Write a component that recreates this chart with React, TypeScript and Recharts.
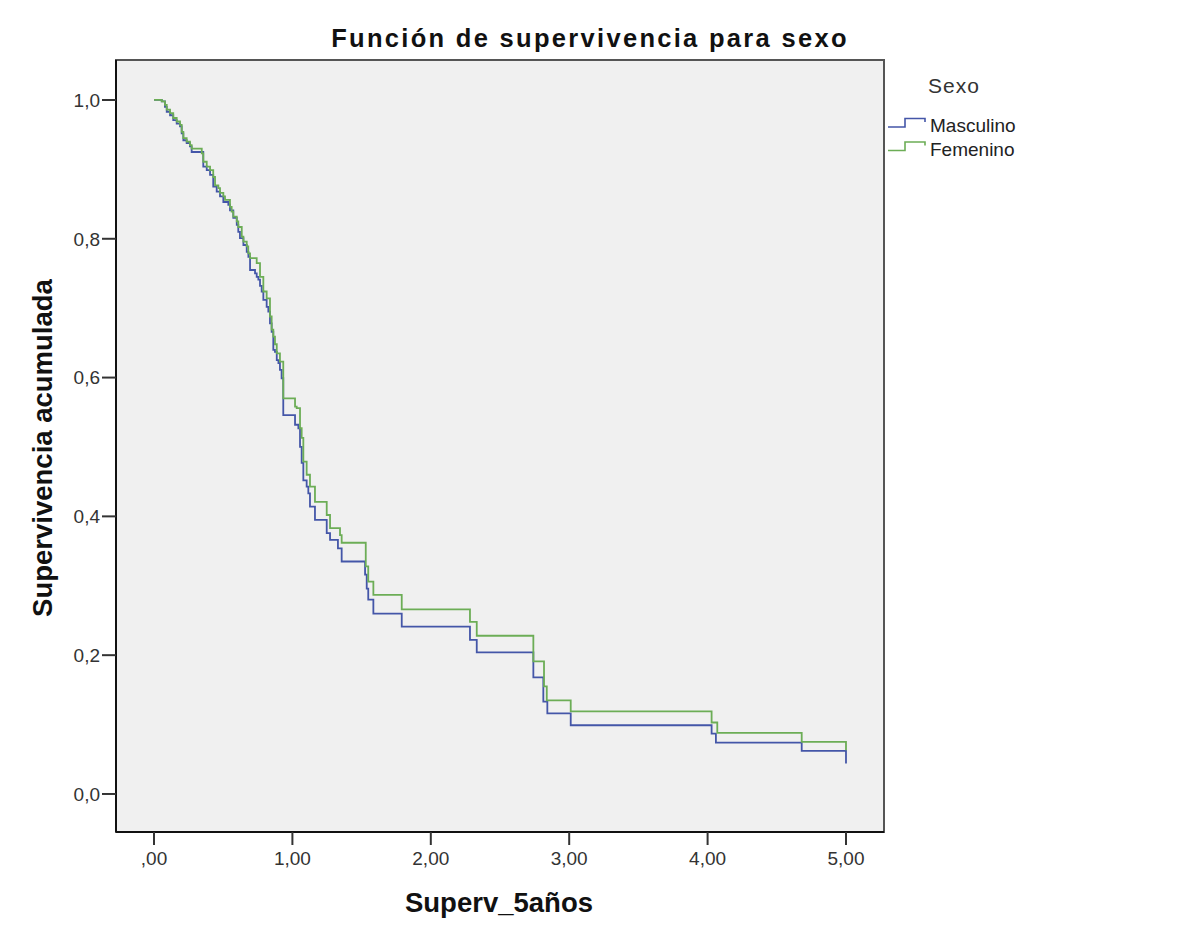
import { LineChart, Line, XAxis, YAxis, ReferenceArea, Legend } from "recharts";

// Kaplan-Meier steps (time in years, cumulative survival after the drop)
const masculinoTiempo = [
  0, 0.056, 0.079, 0.092, 0.116, 0.139, 0.164, 0.188, 0.2, 0.212, 0.236, 0.26, 0.272, 0.356, 0.381, 0.405,
  0.428, 0.453, 0.477, 0.501, 0.537, 0.549, 0.573, 0.598, 0.609, 0.621, 0.646, 0.67, 0.682, 0.694, 0.73,
  0.742, 0.754, 0.766, 0.778, 0.79, 0.814, 0.826, 0.838, 0.85, 0.862, 0.874, 0.887, 0.899, 0.91, 0.922,
  0.934, 1.019, 1.043, 1.055, 1.067, 1.079, 1.103, 1.115, 1.127, 1.163, 1.248, 1.272, 1.329, 1.356, 1.525,
  1.537, 1.548, 1.585, 1.79, 2.283, 2.332, 2.741, 2.813, 2.842, 3.011, 4.029, 4.06, 4.68, 5.0,
];
const masculinoSuperv = [
  1.0, 0.998, 0.99, 0.983, 0.978, 0.971, 0.966, 0.962, 0.952, 0.942, 0.938, 0.933, 0.925, 0.904, 0.899, 0.892,
  0.875, 0.868, 0.861, 0.853, 0.849, 0.841, 0.83, 0.82, 0.81, 0.801, 0.791, 0.781, 0.774, 0.755, 0.75,
  0.745, 0.741, 0.732, 0.724, 0.712, 0.702, 0.695, 0.678, 0.666, 0.64, 0.637, 0.625, 0.621, 0.611, 0.599,
  0.546, 0.532, 0.527, 0.5, 0.477, 0.452, 0.443, 0.433, 0.414, 0.395, 0.376, 0.366, 0.354, 0.335, 0.316,
  0.296, 0.28, 0.26, 0.241, 0.222, 0.204, 0.168, 0.133, 0.116, 0.099, 0.087, 0.074, 0.062, 0.044,
];

const femeninoTiempo = [
  0, 0.056, 0.079, 0.092, 0.116, 0.139, 0.164, 0.188, 0.2, 0.212, 0.236, 0.26, 0.272, 0.345, 0.356, 0.381,
  0.405, 0.428, 0.441, 0.465, 0.477, 0.501, 0.513, 0.549, 0.561, 0.573, 0.598, 0.609, 0.634, 0.646, 0.67,
  0.681, 0.694, 0.742, 0.766, 0.79, 0.814, 0.838, 0.85, 0.862, 0.874, 0.887, 0.91, 0.934, 1.019, 1.031,
  1.055, 1.067, 1.079, 1.103, 1.127, 1.163, 1.248, 1.272, 1.344, 1.356, 1.53, 1.548, 1.585, 1.79, 2.283,
  2.332, 2.741, 2.818, 2.838, 3.011, 4.029, 4.07, 4.68, 5.0,
];
const femeninoSuperv = [
  1.0, 0.998, 0.993, 0.986, 0.981, 0.974, 0.969, 0.964, 0.954, 0.945, 0.94, 0.935, 0.93, 0.923, 0.911, 0.904,
  0.899, 0.889, 0.877, 0.873, 0.866, 0.861, 0.856, 0.846, 0.839, 0.832, 0.825, 0.817, 0.803, 0.796, 0.789,
  0.779, 0.772, 0.765, 0.745, 0.724, 0.714, 0.688, 0.669, 0.659, 0.648, 0.635, 0.623, 0.57, 0.558, 0.556,
  0.527, 0.513, 0.479, 0.46, 0.443, 0.421, 0.402, 0.383, 0.373, 0.362, 0.328, 0.306, 0.287, 0.266, 0.248,
  0.228, 0.191, 0.155, 0.135, 0.119, 0.103, 0.088, 0.075, 0.063,
];

const seriesNames = ["Masculino", "Femenino"];
const xTicks = [0, 1, 2, 3, 4, 5];
const yTicks = [0, 0.2, 0.4, 0.6, 0.8, 1.0];

const masculinoData = masculinoTiempo.map((t, i) => ({ t, s: masculinoSuperv[i] }));
const femeninoData = femeninoTiempo.map((t, i) => ({ t, s: femeninoSuperv[i] }));

const FONT = "'Liberation Sans', Arial, sans-serif";
const X_DOMAIN = [-0.2746, 5.2746];
const Y_DOMAIN = [-0.0548, 1.0576];

const fmtX = (v: number) => (v === 0 ? ",00" : v.toFixed(2).replace(".", ","));
const fmtY = (v: number) => v.toFixed(1).replace(".", ",");

const SexoLegend = ({ payload }: any) => {
  const items = [...(payload || [])].sort(
    (a: any, b: any) => seriesNames.indexOf(a.value) - seriesNames.indexOf(b.value)
  );
  return (
    <svg width={200} height={110} style={{ display: "block" }}>
      <text x={43} y={33} fontSize={21} letterSpacing={1} fill="#333" fontFamily={FONT}>
        Sexo
      </text>
      {items.map((p: any, i: number) => {
        const y = 67 + i * 23.5;
        return (
          <g key={p.value}>
            <polyline
              points={`3,${y} 20,${y} 20,${y - 8.5} 40,${y - 8.5} 40,${y - 5}`}
              fill="none"
              stroke={p.color}
              strokeWidth={1.6}
            />
            <text x={45} y={y + 5} fontSize={19} fill="#222" fontFamily={FONT}>
              {p.value}
            </text>
          </g>
        );
      })}
    </svg>
  );
};

export default function App() {
  return (
    <div style={{ position: "absolute", left: 0, top: 0, width: 1181, height: 945, background: "#fff" }}>
      <LineChart width={1181} height={945} margin={{ top: 60, right: 297, bottom: 73, left: 56 }}>
        <ReferenceArea
          x1={X_DOMAIN[0]}
          x2={X_DOMAIN[1]}
          y1={Y_DOMAIN[0]}
          y2={Y_DOMAIN[1]}
          fill="#f0f0f0"
          fillOpacity={1}
          stroke="#555"
          strokeWidth={2}
          ifOverflow="visible"
        />
        <XAxis
          type="number"
          dataKey="t"
          domain={X_DOMAIN}
          ticks={xTicks}
          tickFormatter={fmtX}
          allowDataOverflow
          height={40}
          tickSize={13}
          tickMargin={7}
          axisLine={{ stroke: "#111", strokeWidth: 2 }}
          tickLine={{ stroke: "#333", strokeWidth: 2 }}
          tick={{ fontSize: 19, fill: "#333", fontFamily: FONT }}
        />
        <YAxis
          type="number"
          domain={Y_DOMAIN}
          ticks={yTicks}
          tickFormatter={fmtY}
          allowDataOverflow
          width={60}
          tickSize={14}
          tickMargin={2}
          axisLine={{ stroke: "#111", strokeWidth: 2 }}
          tickLine={{ stroke: "#333", strokeWidth: 2 }}
          tick={{ fontSize: 19, fill: "#333", fontFamily: FONT }}
        />
        <Line
          data={masculinoData}
          dataKey="s"
          name="Masculino"
          type="stepAfter"
          stroke="#4456a8"
          strokeWidth={1.8}
          dot={false}
          activeDot={false}
          isAnimationActive={false}
        />
        <Line
          data={femeninoData}
          dataKey="s"
          name="Femenino"
          type="stepAfter"
          stroke="#6cad56"
          strokeWidth={1.8}
          dot={false}
          activeDot={false}
          isAnimationActive={false}
        />
        <Legend
          layout="vertical"
          align="center"
          verticalAlign="middle"
          content={<SexoLegend />}
          wrapperStyle={{ left: 885, top: 60, width: 200, height: 110 }}
        />
      </LineChart>
      <svg
        width={1181}
        height={945}
        style={{ position: "absolute", left: 0, top: 0, pointerEvents: "none" }}
      >
        <text x={590} y={47} textAnchor="middle" fontSize={25.5} fontWeight="bold" letterSpacing={2.3} fill="#111" fontFamily={FONT}>
          Función de supervivencia para sexo
        </text>
        <text
          x={52}
          y={448}
          transform="rotate(-90 52 448)"
          textAnchor="middle"
          fontSize={27.5}
          fontWeight="bold"
          fill="#111"
          fontFamily={FONT}
        >
          Supervivencia acumulada
        </text>
        <text x={499} y={912} textAnchor="middle" fontSize={27.5} fontWeight="bold" fill="#111" fontFamily={FONT}>
          Superv_5años
        </text>
      </svg>
    </div>
  );
}
